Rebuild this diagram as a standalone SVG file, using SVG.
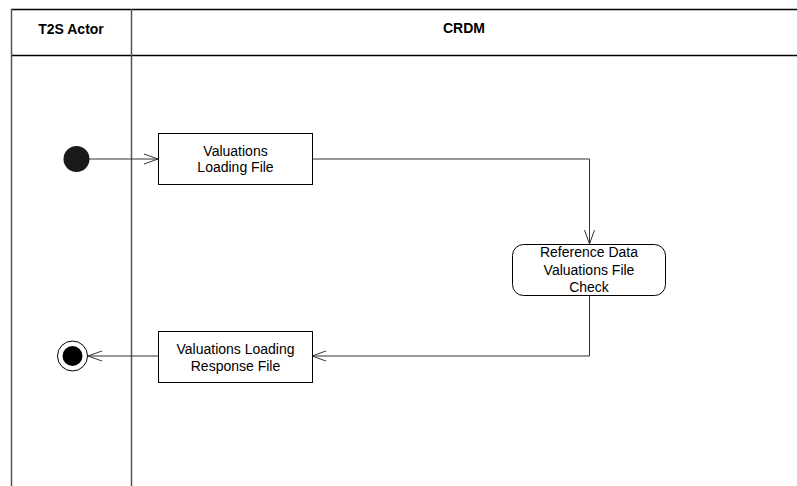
<svg xmlns="http://www.w3.org/2000/svg" width="797" height="486" viewBox="0 0 797 486">
<style>
.vl{stroke:#555;stroke-width:1.5;fill:none}
.hdr{font-family:"Liberation Sans",Arial,sans-serif;font-size:14px;font-weight:bold;fill:#000;text-anchor:middle}
.lbl{font-family:"Liberation Sans",Arial,sans-serif;font-size:14px;fill:#000;text-anchor:middle}
.box{fill:#fff;stroke:#000;stroke-width:1}
.conn{stroke:#333;stroke-width:1;fill:none}
</style>
<defs>
<marker id="open" viewBox="0 0 16 12" refX="15" refY="6" markerWidth="16" markerHeight="12" markerUnits="userSpaceOnUse" orient="auto">
<path d="M1,1 L15,6 L1,11" fill="none" stroke="#333" stroke-width="1"/>
</marker>
</defs>
<rect width="797" height="486" fill="#fff"/>
<g id="swimlanes">
<line x1="11" y1="9.5" x2="797" y2="9.5" stroke="#000" stroke-width="1.5"/>
<line x1="11" y1="55.5" x2="797" y2="55.5" stroke="#000" stroke-width="1.5"/>
<line class="vl" x1="11.5" y1="9" x2="11.5" y2="486"/>
<line class="vl" x1="131.5" y1="9" x2="131.5" y2="486"/>
<text class="hdr" x="71" y="34">T2S Actor</text>
<text class="hdr" x="464" y="32.5">CRDM</text>
</g>
<g id="connectors">
<line class="conn" x1="89" y1="159" x2="158" y2="159" marker-end="url(#open)"/>
<polyline class="conn" points="312,159 589.5,159 589.5,244" marker-end="url(#open)"/>
<polyline class="conn" points="589.5,295 589.5,356 312,356" marker-end="url(#open)"/>
<line class="conn" x1="158" y1="356" x2="88" y2="356" marker-end="url(#open)"/>
</g>
<g id="start">
<circle cx="76.5" cy="159" r="13" fill="#1a1a1a"/>
</g>
<g id="valuations-loading-file">
<rect class="box" x="158.5" y="133.5" width="154" height="51"/>
<text class="lbl" x="235.5" y="155.5">Valuations</text>
<text class="lbl" x="235.5" y="172">Loading File</text>
</g>
<g id="reference-data-check">
<rect class="box" x="512.5" y="244.5" width="153" height="51" rx="11" ry="11"/>
<text class="lbl" x="589" y="257">Reference Data</text>
<text class="lbl" x="589" y="275">Valuations File</text>
<text class="lbl" x="589" y="292">Check</text>
</g>
<g id="valuations-loading-response-file">
<rect class="box" x="158.5" y="331.5" width="154" height="51"/>
<text class="lbl" x="235.5" y="354">Valuations Loading</text>
<text class="lbl" x="235.5" y="370.5">Response File</text>
</g>
<g id="end">
<circle cx="72.5" cy="356" r="15" fill="#fff" stroke="#000" stroke-width="1"/>
<circle cx="72.5" cy="356" r="10" fill="#000"/>
</g>
</svg>
